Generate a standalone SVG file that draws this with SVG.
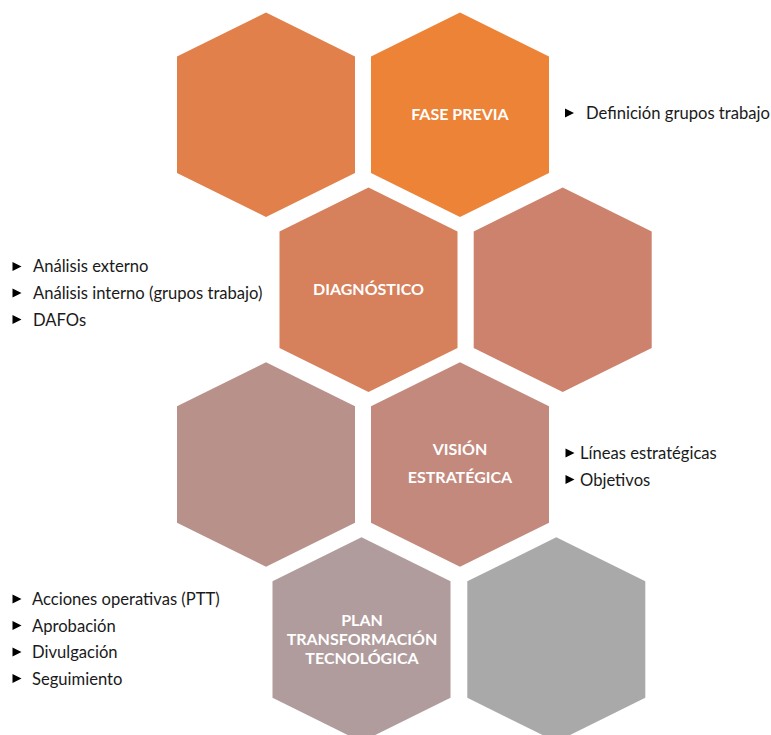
<svg xmlns="http://www.w3.org/2000/svg" xmlns:xlink="http://www.w3.org/1999/xlink" width="771" height="735" viewBox="0 0 771 735">
  <style>
    .title { font-family: Lato, "Liberation Sans", sans-serif; font-weight: bold; font-size: 16px; fill: #ffffff; text-anchor: middle; }
    .item { font-family: Lato, "Liberation Sans", sans-serif; font-size: 16.6px; fill: #1a1a1a; }
    .bullet { fill: #000000; }
  </style>
  <defs>
    <!-- pointy-top hexagon, 178 wide, 204 tall, anchored at its top-left bounding corner -->
    <path id="hex" d="M89,0 L178,44 L178,160.5 L89,204.5 L0,160.5 L0,44 Z"/>
    <path id="tri" d="M0,0 L9,4.5 L0,9 Z"/>
  </defs>

  <rect width="771" height="735" fill="#ffffff"/>

  <!-- row 1 -->
  <g id="hex-r1-left">
    <use xlink:href="#hex" x="177" y="12.5" fill="#E1804B"/>
  </g>
  <g id="fase-previa">
    <use xlink:href="#hex" x="371" y="12.5" fill="#ED8337"/>
    <text class="title" x="460" y="120">FASE PREVIA</text>
  </g>

  <!-- row 2 -->
  <g id="diagnostico">
    <use xlink:href="#hex" x="279.5" y="187.5" fill="#D6805C"/>
    <text class="title" x="368.5" y="295">DIAGNÓSTICO</text>
  </g>
  <g id="hex-r2-right">
    <use xlink:href="#hex" x="473.7" y="187.5" fill="#CC826D"/>
  </g>

  <!-- row 3 -->
  <g id="hex-r3-left">
    <use xlink:href="#hex" x="177" y="362.3" fill="#B8918B"/>
  </g>
  <g id="vision-estrategica">
    <use xlink:href="#hex" x="371" y="362.3" fill="#C3897C"/>
    <text class="title" x="460" y="455">VISIÓN</text>
    <text class="title" x="460" y="483">ESTRATÉGICA</text>
  </g>

  <!-- row 4 -->
  <g id="plan-transformacion">
    <use xlink:href="#hex" x="272.5" y="537.3" fill="#B09C9C"/>
    <text class="title" x="362" y="626">PLAN</text>
    <text class="title" x="362" y="645">TRANSFORMACIÓN</text>
    <text class="title" x="362" y="664">TECNOLÓGICA</text>
  </g>
  <g id="hex-r4-right">
    <use xlink:href="#hex" x="467.3" y="537.3" fill="#A9A9A9"/>
  </g>

  <!-- bullet lists -->
  <g id="list-fase-previa">
    <use xlink:href="#tri" class="bullet" x="565" y="108.5"/>
    <text class="item" x="586" y="119">Definición grupos trabajo</text>
  </g>

  <g id="list-diagnostico">
    <use xlink:href="#tri" class="bullet" x="12.5" y="262"/>
    <text class="item" x="33" y="272">Análisis externo</text>
    <use xlink:href="#tri" class="bullet" x="12.5" y="288.5"/>
    <text class="item" x="33" y="299">Análisis interno (grupos trabajo)</text>
    <use xlink:href="#tri" class="bullet" x="12.5" y="315"/>
    <text class="item" x="33" y="325.5">DAFOs</text>
  </g>

  <g id="list-vision">
    <use xlink:href="#tri" class="bullet" x="565.5" y="448.5"/>
    <text class="item" x="580" y="459">Líneas estratégicas</text>
    <use xlink:href="#tri" class="bullet" x="565.5" y="475"/>
    <text class="item" x="580" y="485.5">Objetivos</text>
  </g>

  <g id="list-plan">
    <use xlink:href="#tri" class="bullet" x="12.5" y="594.5"/>
    <text class="item" x="32" y="605">Acciones operativas (PTT)</text>
    <use xlink:href="#tri" class="bullet" x="12.5" y="621"/>
    <text class="item" x="32" y="631.5">Aprobación</text>
    <use xlink:href="#tri" class="bullet" x="12.5" y="647.5"/>
    <text class="item" x="32" y="658">Divulgación</text>
    <use xlink:href="#tri" class="bullet" x="12.5" y="674"/>
    <text class="item" x="32" y="684.5">Seguimiento</text>
  </g>
</svg>
